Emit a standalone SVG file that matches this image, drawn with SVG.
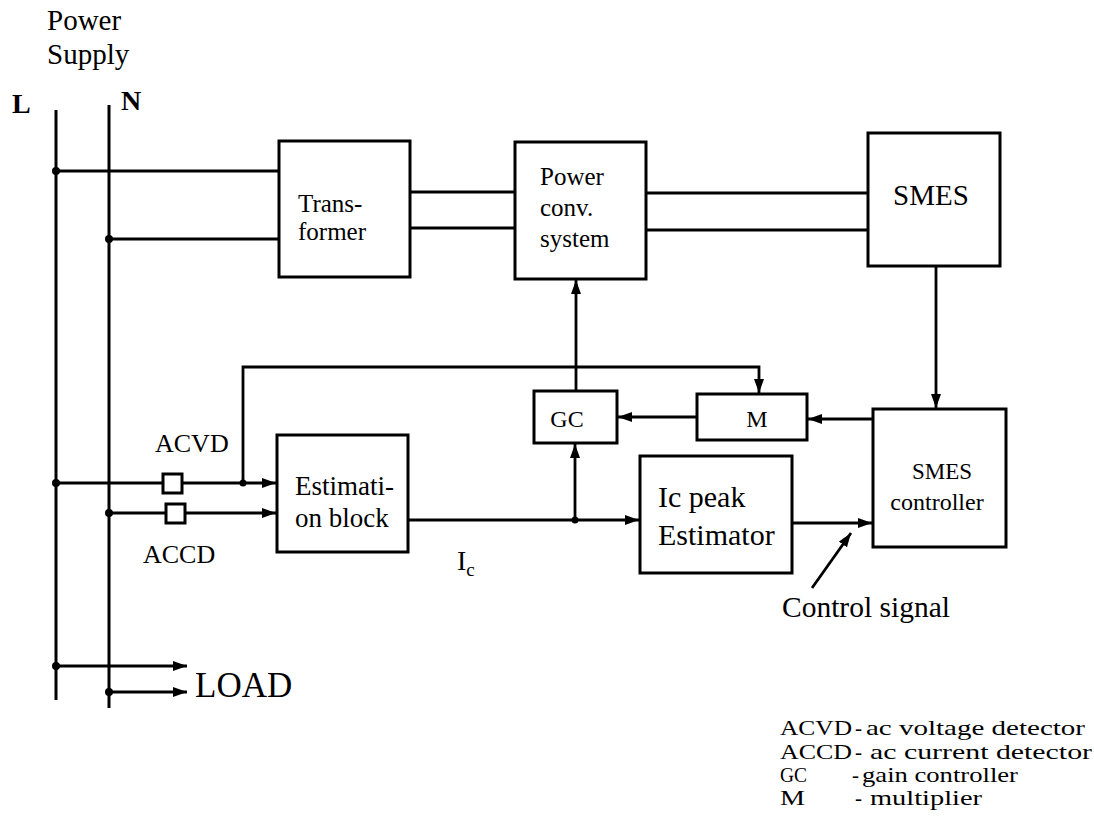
<svg xmlns="http://www.w3.org/2000/svg" width="1094" height="836" viewBox="0 0 1094 836" font-family="Liberation Serif, DejaVu Serif, serif">
<style>
.box{fill:#fff;stroke:#000;stroke-width:3}
.w{fill:none;stroke:#000;stroke-width:2.8}
.bus{fill:none;stroke:#000;stroke-width:3}
.dot{fill:#000}
.arr{marker-end:url(#ah)}
</style>
<defs>
<marker id="ah" viewBox="0 0 14 10" refX="14" refY="5" markerWidth="14" markerHeight="10" markerUnits="userSpaceOnUse" orient="auto">
<path d="M0,0 L14,5 L0,10 z" fill="#000"/>
</marker>
</defs>
<rect width="1094" height="836" fill="#fff"/>

<g id="labels-supply">
<text x="47" y="30" font-size="29">Power</text>
<text x="47" y="64" font-size="29">Supply</text>
<text x="12" y="113" font-size="28" font-weight="bold">L</text>
<text x="121" y="110" font-size="28" font-weight="bold">N</text>
</g>

<g id="connectors">
<line class="bus" x1="56" y1="110" x2="56" y2="700"/>
<line class="bus" x1="109" y1="105" x2="109" y2="708"/>
<line class="w" x1="56" y1="171" x2="279" y2="171"/>
<line class="w" x1="109" y1="239" x2="279" y2="239"/>
<line class="w" x1="410" y1="192" x2="515" y2="192"/>
<line class="w" x1="410" y1="228" x2="515" y2="228"/>
<line class="w" x1="646" y1="193" x2="868" y2="193"/>
<line class="w" x1="646" y1="230" x2="868" y2="230"/>
<line class="w arr" x1="576" y1="391" x2="576" y2="280"/>
<line class="w arr" x1="936" y1="266" x2="936" y2="408"/>
<line class="w arr" x1="873" y1="419" x2="808" y2="419"/>
<line class="w arr" x1="697" y1="417" x2="618" y2="417"/>
<line class="w arr" x1="56" y1="483" x2="276" y2="483"/>
<line class="w arr" x1="109" y1="513" x2="276" y2="513"/>
<polyline class="w arr" points="243,483 243,367 759,367 759,393"/>
<line class="w arr" x1="408" y1="520" x2="639" y2="520"/>
<line class="w arr" x1="575" y1="520" x2="575" y2="444"/>
<line class="w arr" x1="792" y1="523" x2="872" y2="523"/>
<line class="w arr" x1="812" y1="588" x2="851" y2="533"/>
<line class="w arr" x1="56" y1="666" x2="187" y2="666"/>
<line class="w arr" x1="109" y1="692" x2="187" y2="692"/>
<circle class="dot" cx="56" cy="171" r="4"/>
<circle class="dot" cx="109" cy="239" r="4"/>
<circle class="dot" cx="56" cy="483" r="4"/>
<circle class="dot" cx="109" cy="513" r="4"/>
<circle class="dot" cx="243" cy="483" r="3.5"/>
<circle class="dot" cx="575" cy="520" r="3.5"/>
<circle class="dot" cx="56" cy="666" r="4"/>
<circle class="dot" cx="109" cy="692" r="4"/>
</g>

<g id="acvd">
<rect class="box" x="163" y="474" width="19" height="19" stroke-width="2.6"/>
<text x="155" y="452" font-size="26">ACVD</text>
</g>
<g id="accd">
<rect class="box" x="166" y="504" width="19" height="19" stroke-width="2.6"/>
<text x="143" y="563" font-size="26">ACCD</text>
</g>

<g id="transformer">
<rect class="box" x="279" y="141" width="131" height="136"/>
<text x="298" y="212" font-size="25">Trans-</text>
<text x="298" y="240" font-size="25">former</text>
</g>

<g id="power-conv">
<rect class="box" x="515" y="142" width="131" height="137"/>
<text x="540" y="185" font-size="25">Power</text>
<text x="540" y="216" font-size="25">conv.</text>
<text x="540" y="247" font-size="25">system</text>
</g>

<g id="smes">
<rect class="box" x="868" y="133" width="132" height="133"/>
<text x="931" y="205" font-size="29" text-anchor="middle">SMES</text>
</g>

<g id="gc">
<rect class="box" x="534" y="391" width="83" height="52"/>
<text x="567" y="427" font-size="24" text-anchor="middle">GC</text>
</g>

<g id="m">
<rect class="box" x="697" y="394" width="110" height="46"/>
<text x="757" y="427" font-size="24" text-anchor="middle">M</text>
</g>

<g id="smes-controller">
<rect class="box" x="873" y="409" width="133" height="138"/>
<text x="942" y="479" font-size="23" text-anchor="middle">SMES</text>
<text x="937" y="510" font-size="24" text-anchor="middle">controller</text>
</g>

<g id="estimation-block">
<rect class="box" x="277" y="435" width="131" height="117"/>
<text x="295" y="495" font-size="27">Estimati-</text>
<text x="295" y="527" font-size="27">on block</text>
</g>

<g id="ic-peak-estimator">
<rect class="box" x="640" y="456" width="152" height="117"/>
<text x="658" y="507" font-size="30">Ic peak</text>
<text x="658" y="545" font-size="30">Estimator</text>
</g>

<g id="text-labels">
<text x="457" y="570" font-size="28">I<tspan font-size="19" dy="6">c</tspan></text>
<text x="782" y="617" font-size="29.5">Control signal</text>
<text x="195" y="697" font-size="35">LOAD</text>
</g>

<g id="legend" font-size="21">
<text x="780" y="735" textLength="72" lengthAdjust="spacingAndGlyphs">ACVD</text>
<text x="855" y="735">-</text>
<text x="866" y="735" textLength="219" lengthAdjust="spacingAndGlyphs">ac voltage detector</text>
<text x="780" y="759" textLength="72" lengthAdjust="spacingAndGlyphs">ACCD</text>
<text x="855" y="759">-</text>
<text x="870" y="759" textLength="222" lengthAdjust="spacingAndGlyphs">ac current detector</text>
<text x="780" y="782" textLength="27" lengthAdjust="spacingAndGlyphs">GC</text>
<text x="852" y="782">-</text>
<text x="862" y="782" textLength="156" lengthAdjust="spacingAndGlyphs">gain controller</text>
<text x="780" y="805" textLength="25" lengthAdjust="spacingAndGlyphs">M</text>
<text x="855" y="805">-</text>
<text x="870" y="805" textLength="112" lengthAdjust="spacingAndGlyphs">multiplier</text>
</g>
</svg>
